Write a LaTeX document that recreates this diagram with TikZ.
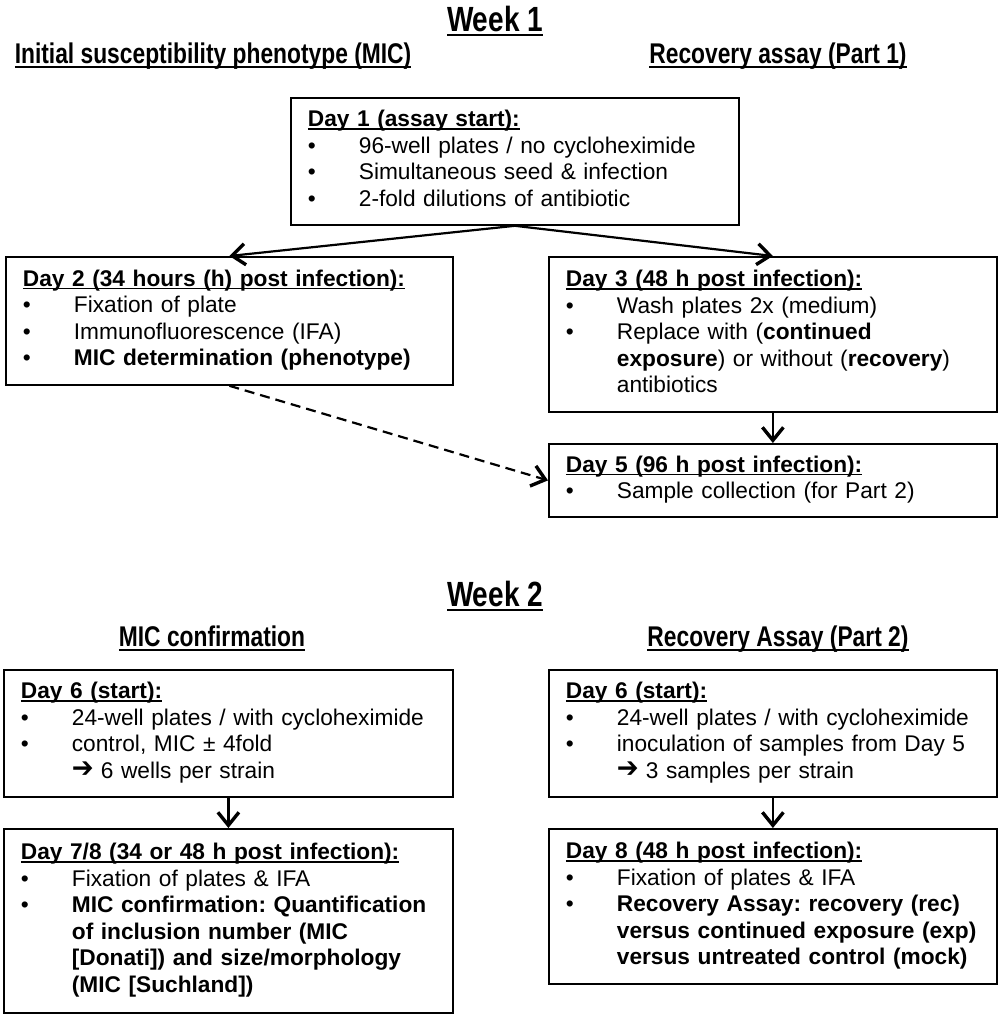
\documentclass[tikz,border=0pt]{standalone}
\usepackage{fontspec}
\setmainfont{Liberation Sans}
\newfontfamily\narrowfont[FakeStretch=0.8]{Liberation Sans}
\newfontfamily\djv{DejaVu Sans}
\usetikzlibrary{arrows.meta}
\frenchspacing
\newcommand\myul[1]{\setbox0\hbox{#1}\rlap{\rule[-3pt]{\wd0}{1.6pt}}\box0}
\newcommand\myulT[1]{\setbox0\hbox{#1}\rlap{\rule[-5pt]{\wd0}{2.4pt}}\box0}
\newcommand\bul{\makebox[51pt][l]{\textbullet}}
\newcommand\indt{\hspace*{51pt}}
\newcommand\rarr{\makebox[29pt][l]{\raisebox{0.5pt}{\scalebox{1.15}[1.25]{\djv\bfseries\char"2794}}}}
\tikzset{
  box/.style={draw, line width=1.8pt, anchor=north west, align=left,
    inner xsep=17pt, inner ysep=10pt, font=\fontsize{22.7}{26.5}\selectfont},
  title/.style={anchor=base, inner sep=0pt, font=\narrowfont\bfseries\fontsize{35}{40}\selectfont},
  subtitle/.style={anchor=base, inner sep=0pt, font=\narrowfont\bfseries\fontsize{28.5}{32}\selectfont},
  arr/.style={line width=2.2pt, -{Straight Barb[length=13pt,width=21pt,line width=3.4pt]}},
  darr/.style={arr, dash pattern=on 10pt off 6pt}
}
\begin{document}
\begin{tikzpicture}[x=1pt,y=1pt]
\useasboundingbox (0,0) rectangle (1000,-1015);
% titles
\node[title] (w1) at (495,-31) {\myulT{Week 1}};
\node[subtitle] (s1) at (213,-63) {\myulT{Initial susceptibility phenotype (MIC)}};
\node[subtitle] (s2) at (778,-63) {\myulT{Recovery assay (Part 1)}};
\node[title] (w2) at (495,-606) {\myulT{Week 2}};
\node[subtitle] (s3) at (212,-646) {\myulT{MIC confirmation}};
\node[subtitle] (s4) at (778,-646) {\myulT{Recovery Assay (Part 2)}};
% week 1 boxes
\node[box, text width=414pt, minimum height=127pt] (d1) at (290,-97) {%
\strut\myul{\textbf{Day 1 (assay start):}}\\
\bul 96-well plates / no cycloheximide\\
\bul Simultaneous seed \& infection\\
\bul 2-fold dilutions of antibiotic\strut};
\node[box, text width=413pt, minimum height=128pt] (d2) at (5,-256) {%
\strut\myul{\textbf{Day 2 (34 hours (h) post infection):}}\\
\bul Fixation of plate\\
\bul Immunofluorescence (IFA)\\
\bul \textbf{MIC determination (phenotype)}\strut};
\node[box, text width=414pt, minimum height=155pt] (d3) at (548,-256) {%
\strut\myul{\textbf{Day 3 (48 h post infection):}}\\
\bul Wash plates 2x (medium)\\
\bul Replace with (\textbf{continued}\\
\indt\textbf{exposure}) or without (\textbf{recovery})\\
\indt antibiotics\strut};
\node[box, text width=414pt, minimum height=72pt] (d5) at (548,-443) {%
\strut\myul{\textbf{Day 5 (96 h post infection):}}\\
\bul Sample collection (for Part 2)\strut};
% week 2 boxes
\node[box, text width=415pt, minimum height=127pt] (d6l) at (3,-669) {%
\strut\myul{\textbf{Day 6 (start):}}\\
\bul 24-well plates / with cycloheximide\\
\bul control, MIC ± 4fold\\
\indt\rarr 6 wells per strain\strut};
\node[box, text width=415pt, minimum height=184pt] (d78) at (3,-828) {%
\strut\myul{\textbf{Day 7/8 (34 or 48 h post infection):}}\\
\bul Fixation of plates \& IFA\\
\bul \textbf{MIC confirmation: Quantification}\\
\indt\textbf{of inclusion number (MIC}\\
\indt\textbf{[Donati]) and size/morphology}\\
\indt\textbf{(MIC [Suchland])}\strut};
\node[box, text width=414pt, minimum height=127pt] (d6r) at (548,-669) {%
\strut\myul{\textbf{Day 6 (start):}}\\
\bul 24-well plates / with cycloheximide\\
\bul inoculation of samples from Day 5\\
\indt\rarr 3 samples per strain\strut};
\node[box, text width=414pt, minimum height=155pt] (d8) at (548,-828) {%
\strut\myul{\textbf{Day 8 (48 h post infection):}}\\
\bul Fixation of plates \& IFA\\
\bul \textbf{Recovery Assay: recovery (rec)}\\
\indt\textbf{versus continued exposure (exp)}\\
\indt\textbf{versus untreated control (mock)}\strut};
% connectors
\draw[arr] (d1.south) -- (d2.north);
\draw[arr] (d1.south) -- (d3.north);
\draw[arr] (d3.south) -- (d5.north);
\draw[darr] (d2.south) -- (d5.west);
\draw[arr] (d6l.south) -- (d78.north);
\draw[arr] (d6r.south) -- (d8.north);
\end{tikzpicture}
\end{document}
